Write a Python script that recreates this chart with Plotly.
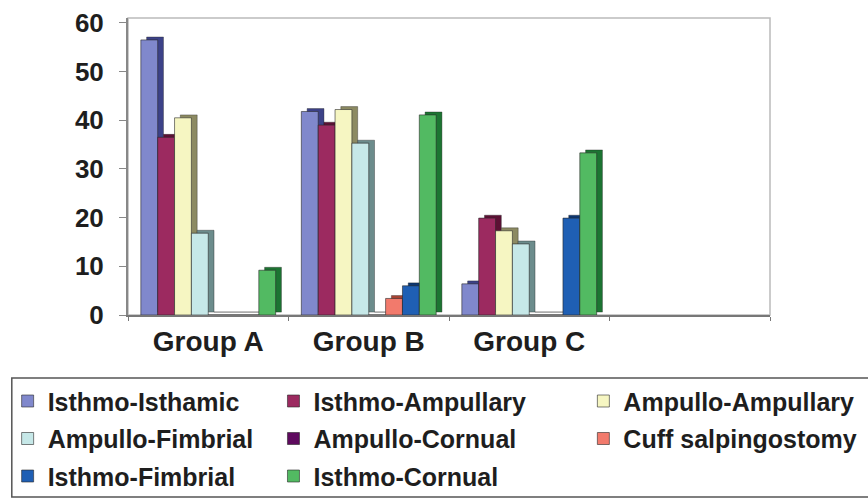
import plotly.graph_objects as go

# ---------------- data ----------------
categories = ["Group A", "Group B", "Group C", " "]
series_names = [
    "Isthmo-Isthamic", "Isthmo-Ampullary", "Ampullo-Ampullary",
    "Ampullo-Fimbrial", "Ampullo-Cornual", "Cuff salpingostomy",
    "Isthmo-Fimbrial", "Isthmo-Cornual",
]
isthmo_isthamic = [56.5, 41.8, 6.4]
isthmo_ampullary = [36.5, 39.0, 19.9]
ampullo_ampullary = [40.5, 42.2, 17.3]
ampullo_fimbrial = [16.8, 35.3, 14.6]
ampullo_cornual = [0, 0, 0]
cuff_salpingostomy = [0, 3.4, 0]
isthmo_fimbrial = [0, 6.0, 19.9]
isthmo_cornual = [9.2, 41.1, 33.3]
y_ticks = [0, 10, 20, 30, 40, 50, 60]

series_values = [
    isthmo_isthamic, isthmo_ampullary, ampullo_ampullary, ampullo_fimbrial,
    ampullo_cornual, cuff_salpingostomy, isthmo_fimbrial, isthmo_cornual,
]

# ---------------- style ----------------
front_colors = ["#8088CC", "#9C2A60", "#F6F6C2", "#C6E8E8",
                "#5E0A5E", "#F27A6C", "#1F5FB4", "#52BA62"]
side_colors = ["#3C4288", "#5C1034", "#8C8A62", "#6C8C8C",
               "#300030", "#A84434", "#0C3670", "#1C7432"]
font_family = "Liberation Sans, Arial, Helvetica, sans-serif"
bar_w = 0.105
start = -0.42
side_shift = 0.036
depth = 0.6
legend_ids = ["legend", "legend2", "legend3"]
x_cats = categories[:3]

fig = go.Figure()

# side / depth faces (drawn behind)
for i, vals in enumerate(series_values):
    fig.add_trace(go.Bar(
        x=x_cats, y=vals, base=depth,
        width=bar_w, offset=start + i * bar_w + side_shift,
        marker=dict(color=side_colors[i], line=dict(width=0.6, color="rgba(30,30,30,0.6)")),
        showlegend=False, hoverinfo="skip",
    ))

# front faces
for i, vals in enumerate(series_values):
    fig.add_trace(go.Bar(
        x=x_cats, y=vals, name=series_names[i],
        width=bar_w, offset=start + i * bar_w,
        marker=dict(color=front_colors[i], line=dict(width=0.8, color="rgba(40,40,40,0.75)")),
        legend=legend_ids[i % 3], legendgroup=series_names[i],
    ))

legend_common = dict(
    orientation="v", yanchor="top", xanchor="left",
    font=dict(family=font_family, size=25, color="#1E1E1E", weight="bold"),
    bgcolor="rgba(0,0,0,0)", borderwidth=0, traceorder="grouped",
    tracegroupgap=2,
)
legend_y = -0.213

fig.update_layout(
    width=868, height=498,
    margin=dict(l=128, r=98, t=18, b=183, autoexpand=False),
    paper_bgcolor="white", plot_bgcolor="white",
    barmode="overlay",
    showlegend=True,
    legend=dict(x=-0.1875, y=legend_y, **legend_common),
    legend2=dict(x=0.2266, y=legend_y, **legend_common),
    legend3=dict(x=0.7093, y=legend_y, **legend_common),
    xaxis=dict(
        type="category", categoryorder="array", categoryarray=categories,
        range=[-0.5, 3.5],
        showline=True, linecolor="#777777", linewidth=2, mirror=False,
        ticks="outside", ticklen=4, tickcolor="#777777", tickson="boundaries",
        tickfont=dict(family=font_family, size=28, color="#1E1E1E", weight="bold"),
        showgrid=False, zeroline=False,
    ),
    yaxis=dict(
        range=[0, 61], tickvals=y_ticks,
        showline=True, linecolor="#888888", linewidth=2,
        ticks="outside", ticklen=7, tickcolor="#888888",
        ticklabelstandoff=10,
        tickfont=dict(family=font_family, size=26, color="#1E1E1E", weight="bold"),
        showgrid=False, zeroline=False,
    ),
    shapes=[
        # plot area frame (back wall)
        dict(type="rect", xref="paper", yref="paper", x0=0, x1=1, y0=0, y1=1,
             line=dict(color="#BBBBBB", width=1.5), layer="below"),
        # legend frame (runs off the right edge, as in the original)
        dict(type="rect", xref="paper", yref="paper",
             x0=-0.181, x1=1.6, y0=-0.613, y1=-0.212,
             line=dict(color="#555555", width=1.5), layer="below"),
    ],
)

fig.write_html(
    "out.html",
    config={"displayModeBar": False},
    post_script="document.body.style.margin='0';document.body.style.overflow='hidden';",
)
